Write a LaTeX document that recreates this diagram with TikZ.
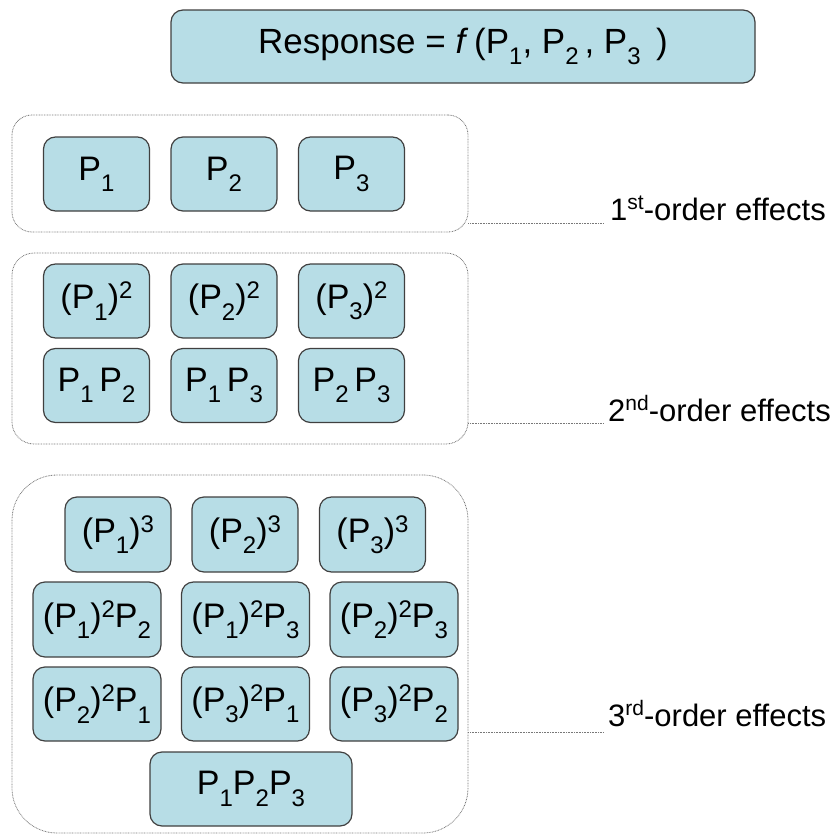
\documentclass[tikz,border=0pt]{standalone}
\usepackage{fontspec}
\setmainfont{Liberation Sans}
\definecolor{boxfill}{RGB}{183,221,230}
\definecolor{boxline}{RGB}{64,64,64}
\definecolor{dotline}{RGB}{120,120,120}
\newcommand\sbs[1]{\raisebox{-0.33em}{\fontsize{24}{24}\selectfont #1}}
\newcommand\sps[1]{\raisebox{0.3em}{\fontsize{24}{24}\selectfont #1}}
\newcommand\ordsup[1]{\raisebox{0.33em}{\fontsize{21}{21}\selectfont #1}}
\tikzset{
  pbox/.style={draw=boxline, fill=boxfill, line width=1.2pt, rounded corners=12pt,
    inner sep=0pt, font=\fontsize{34}{40}\selectfont, text=black},
  grp/.style={draw=dotline, line width=0.8pt, dash pattern=on 0.8pt off 0.8pt, inner sep=0pt},
  conn/.style={draw=dotline, line width=0.8pt, dash pattern=on 0.8pt off 0.8pt},
  lbl/.style={anchor=base west, inner sep=0pt, font=\fontsize{31}{37}\selectfont}
}
\begin{document}
\begin{tikzpicture}[x=1pt, y=-1pt]
\useasboundingbox (0,0) rectangle (836,835);
% groups
\node[grp, rounded corners=20pt, minimum width=456pt, minimum height=117pt] (g1) at (240,173.5) {};
\node[grp, rounded corners=22pt, minimum width=456pt, minimum height=191pt] (g2) at (240,348.5) {};
\node[grp, rounded corners=45pt, minimum width=456pt, minimum height=358pt] (g3) at (240,654) {};
% top
\node[pbox, minimum width=584pt, minimum height=73pt, font=\fontsize{35}{42}\selectfont] (top) at (463,46.5)
  {Response = \textit{f}\,(P\sbs{1}, P\sbs{2}\,, P\sbs{3}\, )};
% first order
\node[pbox, minimum width=106pt, minimum height=74pt] (a1) at (96.5,174) {P\sbs{1}};
\node[pbox, minimum width=106pt, minimum height=74pt] (a2) at (224,174) {P\sbs{2}};
\node[pbox, minimum width=106pt, minimum height=74pt] (a3) at (351.5,174) {P\sbs{3}};
% second order
\node[pbox, minimum width=106pt, minimum height=74pt] (b1) at (96.5,301) {(P\sbs{1})\sps{2}};
\node[pbox, minimum width=106pt, minimum height=74pt] (b2) at (224,301) {(P\sbs{2})\sps{2}};
\node[pbox, minimum width=106pt, minimum height=74pt] (b3) at (351.5,301) {(P\sbs{3})\sps{2}};
\node[pbox, minimum width=106pt, minimum height=74pt] (b4) at (96.5,385.5) {P\sbs{1}\,P\sbs{2}};
\node[pbox, minimum width=106pt, minimum height=74pt] (b5) at (224,385.5) {P\sbs{1}\,P\sbs{3}};
\node[pbox, minimum width=106pt, minimum height=74pt] (b6) at (351.5,385.5) {P\sbs{2}\,P\sbs{3}};
% third order
\node[pbox, minimum width=106pt, minimum height=75pt] (c1) at (118,534.5) {(P\sbs{1})\sps{3}};
\node[pbox, minimum width=106pt, minimum height=75pt] (c2) at (245,534.5) {(P\sbs{2})\sps{3}};
\node[pbox, minimum width=106pt, minimum height=75pt] (c3) at (372.5,534.5) {(P\sbs{3})\sps{3}};
\node[pbox, minimum width=128pt, minimum height=75pt] (c4) at (97,619.5) {(P\sbs{1})\sps{2}P\sbs{2}};
\node[pbox, minimum width=128pt, minimum height=75pt] (c5) at (245.5,619.5) {(P\sbs{1})\sps{2}P\sbs{3}};
\node[pbox, minimum width=128pt, minimum height=75pt] (c6) at (394,619.5) {(P\sbs{2})\sps{2}P\sbs{3}};
\node[pbox, minimum width=128pt, minimum height=74pt] (c7) at (97,704) {(P\sbs{2})\sps{2}P\sbs{1}};
\node[pbox, minimum width=128pt, minimum height=74pt] (c8) at (245.5,704) {(P\sbs{3})\sps{2}P\sbs{1}};
\node[pbox, minimum width=128pt, minimum height=74pt] (c9) at (394,704) {(P\sbs{3})\sps{2}P\sbs{2}};
\node[pbox, minimum width=202pt, minimum height=74pt] (c10) at (251,789) {P\sbs{1}P\sbs{2}P\sbs{3}};
% labels and connectors
\node[lbl] (l1) at (610,220) {1\ordsup{st}-order effects};
\node[lbl] (l2) at (608,421) {2\ordsup{nd}-order effects};
\node[lbl] (l3) at (608,726) {3\ordsup{rd}-order effects};
\coordinate (e1) at (604,223);
\coordinate (e2) at (604,423);
\coordinate (e3) at (604,732);
\draw[conn] (g1.east |- e1) -- (e1);
\draw[conn] (g2.east |- e2) -- (e2);
\draw[conn] (g3.east |- e3) -- (e3);
\end{tikzpicture}
\end{document}
